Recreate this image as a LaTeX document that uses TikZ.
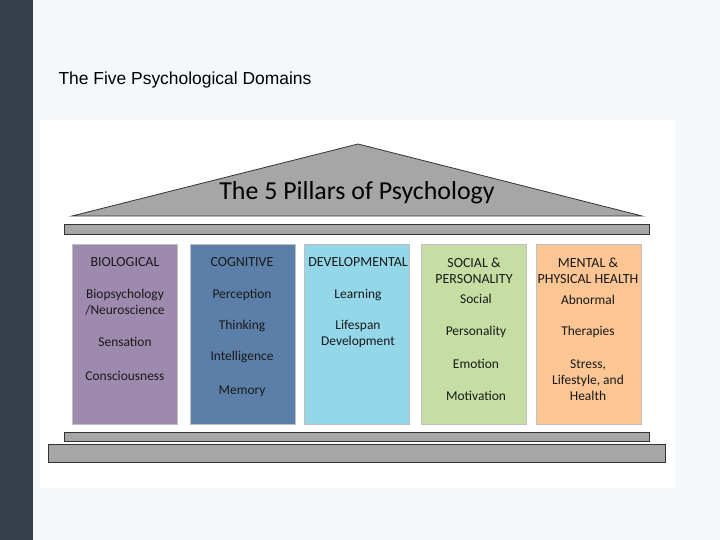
\documentclass[tikz,border=0pt]{standalone}
\usepackage{fontspec}
\setmainfont{Carlito}
\newfontfamily\titlefont{Liberation Sans}
\definecolor{sideBarColor}{HTML}{36404A}
\definecolor{slideBgColor}{HTML}{F4F8FB}
\definecolor{stoneColor}{HTML}{A6A6A6}
\definecolor{pillarColorA}{HTML}{9E8AAE}
\definecolor{pillarColorB}{HTML}{5B7FA8}
\definecolor{pillarColorC}{HTML}{93D7E8}
\definecolor{pillarColorD}{HTML}{C6DEA3}
\definecolor{pillarColorE}{HTML}{FBC594}
\tikzset{
  stone/.style={fill=stoneColor, draw=black!80, line width=0.8bp},
  pillar/.style={draw=black!25, line width=0.6bp, anchor=north west, inner sep=0pt,
    minimum width=105bp, minimum height=180bp},
  head/.style={font=\fontsize{14}{16}\selectfont, align=center, text=black!90},
  item/.style={font=\fontsize{13.5}{16}\selectfont, align=center, text=black!90}
}

\begin{document}
\begin{tikzpicture}[x=1bp,y=-1bp]
\useasboundingbox (0,0) rectangle (720,540);

% slide background
\fill[slideBgColor] (0,0) rectangle (720,540);
\fill[sideBarColor] (0,0) rectangle (33,540);
\node[anchor=west, font=\titlefont\fontsize{17.5}{19}\selectfont] (slideTitle) at (55,80) {The Five Psychological Domains};
\fill[white] (40,120) rectangle (675,488);

% roof and beams
\draw[stone] (72,216) -- (358,144) -- (642,216) -- cycle;
\node[font=\fontsize{26}{28}\selectfont] (roofText) at (357,193) {The 5 Pillars of Psychology};
\draw[stone] (64,224) rectangle (649,234);
\draw[stone] (64,432) rectangle (649,441);
\draw[stone] (48,444) rectangle (665,462);

% pillars
\node[pillar, fill=pillarColorA] (bio) at (72,244) {};
\node[pillar, fill=pillarColorB] (cog) at (190,244) {};
\node[pillar, fill=pillarColorC] (dev) at (304,244) {};
\node[pillar, fill=pillarColorD] (soc) at (421,244) {};
\node[pillar, fill=pillarColorE] (men) at (536,244) {};

% pillar texts
\node[head] at (125,262) {BIOLOGICAL};
\node[item] at (125,302) {Biopsychology\\/Neuroscience};
\node[item] at (125,342) {Sensation};
\node[item] at (125,376) {Consciousness};

\node[head] at (242,262) {COGNITIVE};
\node[item] at (242,295) {Perception};
\node[item] at (242,326) {Thinking};
\node[item] at (242,357) {Intelligence};
\node[item] at (242,391) {Memory};

\node[head] at (358,262) {DEVELOPMENTAL};
\node[item] at (358,295) {Learning};
\node[item] at (358,334) {Lifespan\\Development};

\node[head] at (474,271) {SOCIAL \&\\PERSONALITY};
\node[item] at (476,299) {Social};
\node[item] at (476,332) {Personality};
\node[item] at (476,364) {Emotion};
\node[item] at (476,396) {Motivation};

\node[head] at (588,271) {MENTAL \&\\PHYSICAL HEALTH};
\node[item] at (588,300) {Abnormal};
\node[item] at (588,332) {Therapies};
\node[item] at (588,380) {Stress,\\Lifestyle, and\\Health};
\end{tikzpicture}
\end{document}
